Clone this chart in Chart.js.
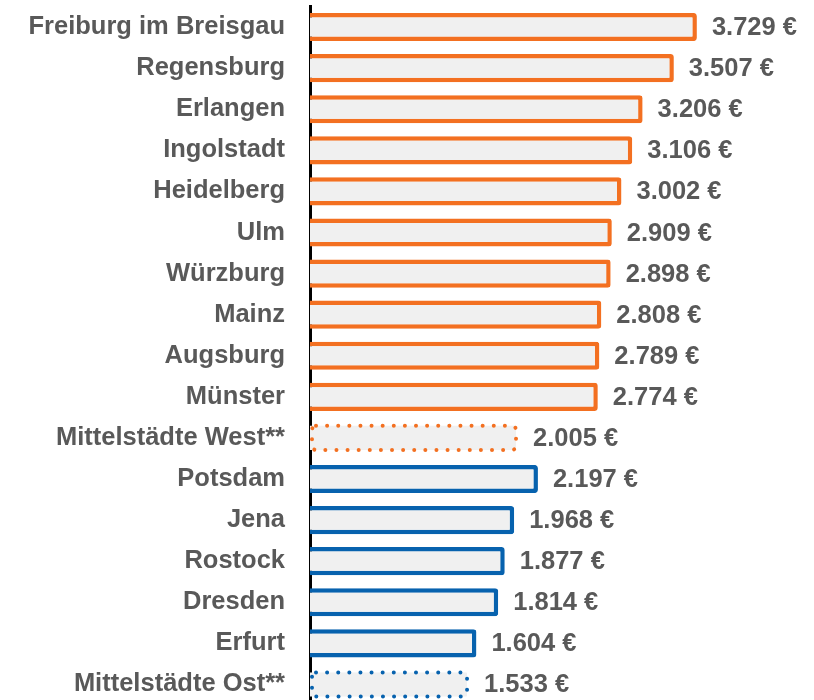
<!DOCTYPE html>
<html lang="de">
<head>
<meta charset="utf-8">
<title>Mietkosten</title>
<script src="https://cdn.jsdelivr.net/npm/chart.js@4/dist/chart.umd.min.js"></script>
<style>
  html, body { margin: 0; padding: 0; background: #fff; overflow: hidden; }
  #wrap { position: relative; width: 814px; height: 705px; }
</style>
</head>
<body>
<div id="wrap"><canvas id="cityChart"></canvas></div>
<script>
// Cities and their values (€)
const cities = [
    'Freiburg im Breisgau', 'Regensburg', 'Erlangen', 'Ingolstadt', 'Heidelberg',
    'Ulm', 'Würzburg', 'Mainz', 'Augsburg', 'Münster', 'Mittelstädte West**',
    'Potsdam', 'Jena', 'Rostock', 'Dresden', 'Erfurt', 'Mittelstädte Ost**'
];
const amounts = [3729, 3507, 3206, 3106, 3002, 2909, 2898, 2808, 2789, 2774, 2005,
                 2197, 1968, 1877, 1814, 1604, 1533];
// 'W' = west, 'O' = east
const regions = ['W', 'W', 'W', 'W', 'W', 'W', 'W', 'W', 'W', 'W', 'W',
                 'O', 'O', 'O', 'O', 'O', 'O'];
// averages get a dotted outline
const isAverage = [false, false, false, false, false, false, false, false, false, false, true,
                   false, false, false, false, false, true];

const ORANGE = '#f37021';
const BLUE = '#0762ae';
const FILL = '#f0f0f0';
const TEXT = '#595959';
const FONT_FAMILY = '"Liberation Sans", Arial, sans-serif';

function regionColor(i) {
    return regions[i] === 'W' ? ORANGE : BLUE;
}

function formatEuro(v) {
    return String(v).replace(/\B(?=(\d{3})+(?!\d))/g, '.') + ' €';
}

// dotted outline for the average bars (bar element has no borderDash)
const dottedOutline = {
    id: 'dottedOutline',
    afterDatasetsDraw(chart) {
        const ctx = chart.ctx;
        const meta = chart.getDatasetMeta(0);
        meta.data.forEach((bar, i) => {
            if (!isAverage[i]) return;
            const p = bar.getProps(['x', 'y', 'base', 'height'], true);
            const lw = 4;
            const left = p.base + lw / 2;
            const top = p.y - p.height / 2 + lw / 2;
            const w = p.x - p.base - lw;
            const h = p.height - lw;
            ctx.save();
            ctx.strokeStyle = regionColor(i);
            ctx.lineWidth = lw;
            ctx.lineCap = 'round';
            ctx.setLineDash([0.01, 11.1]);
            ctx.beginPath();
            ctx.roundRect(left, top, w, h, 4);
            ctx.stroke();
            ctx.restore();
        });
    }
};

// value labels right of each bar
const valueLabels = {
    id: 'valueLabels',
    afterDatasetsDraw(chart) {
        const ctx = chart.ctx;
        const meta = chart.getDatasetMeta(0);
        ctx.save();
        ctx.font = 'bold 25.5px ' + FONT_FAMILY;
        ctx.fillStyle = TEXT;
        ctx.textAlign = 'left';
        ctx.textBaseline = 'middle';
        meta.data.forEach((bar, i) => {
            const p = bar.getProps(['x', 'y'], true);
            ctx.fillText(formatEuro(amounts[i]), p.x + 15, p.y + 1);
        });
        ctx.restore();
    }
};

const ctx = document.getElementById('cityChart').getContext('2d');
const cityChart = new Chart(ctx, {
    type: 'bar',
    data: {
        labels: cities,
        datasets: [{
            data: amounts,
            backgroundColor: FILL,
            borderColor: amounts.map((v, i) => isAverage[i] ? 'rgba(0,0,0,0)' : regionColor(i)),
            borderWidth: amounts.map((v, i) => isAverage[i] ? 2 : 4.5),
            borderRadius: 3,
            borderSkipped: 'start',
            barPercentage: 0.685,
            categoryPercentage: 1
        }]
    },
    options: {
        indexAxis: 'y',
        responsive: true,
        maintainAspectRatio: false,
        animation: false,
        layout: {
            padding: { top: 6.5, right: 89, bottom: 0, left: 0 }
        },
        plugins: {
            legend: { display: false },
            tooltip: { enabled: false }
        },
        scales: {
            x: {
                display: false,
                min: 0,
                max: 4000
            },
            y: {
                z: 1,
                afterFit: function (scale) {
                    // fixed axis position, no extra room above/below the labels
                    scale.width = 310;
                    scale.paddingTop = 0;
                    scale.paddingBottom = 0;
                },
                grid: { display: false, drawTicks: false },
                border: { display: true, color: '#000', width: 3 },
                ticks: {
                    autoSkip: false,
                    padding: 25,
                    color: TEXT,
                    font: { family: FONT_FAMILY, size: 25.5, weight: 'bold' }
                }
            }
        }
    },
    plugins: [dottedOutline, valueLabels]
});
</script>
</body>
</html>
